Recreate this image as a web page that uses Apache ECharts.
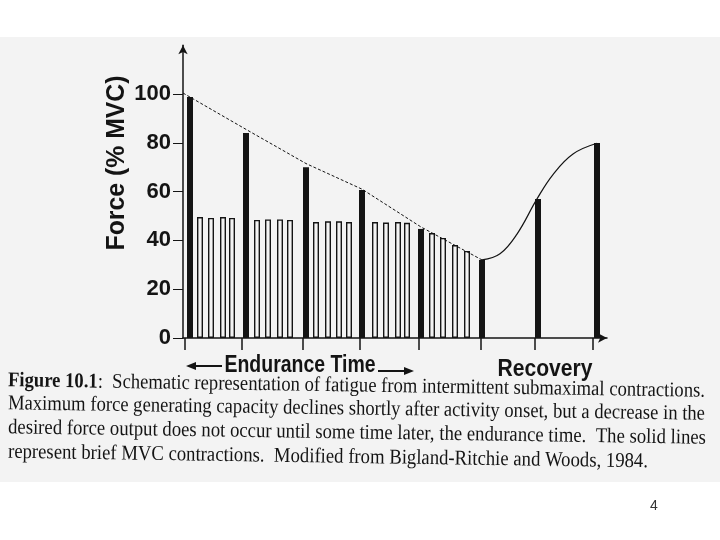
<!DOCTYPE html>
<html><head><meta charset="utf-8">
<script src="https://cdn.jsdelivr.net/npm/echarts@6/dist/echarts.min.js"></script>
<style>html,body{margin:0;padding:0;background:#fff}#c{width:720px;height:540px}</style>
</head><body><div id="c"></div>
<script>
// MVC (solid, brief maximal) contractions
const mvcX = [0.7, 6.3, 12.3, 17.9, 23.8, 29.9, 35.5, 41.4];
const mvcY = [98.8, 84, 70, 60.7, 44.7, 32, 57, 79.9];
// submaximal (open) contractions
const subX = [1.7, 2.8, 4.0, 4.9, 7.4, 8.5, 9.7, 10.7, 13.3, 14.5, 15.6, 16.6, 19.2, 20.3, 21.5, 22.4, 24.9, 26.0, 27.2, 28.4];
const subY = [49.6, 49.2, 49.6, 49.2, 48.4, 48.6, 48.6, 48.4, 47.5, 47.8, 47.8, 47.5, 47.5, 47.3, 47.5, 47.2, 43, 41, 38.1, 35.7];
// maximal force capacity: decline (dashed) and recovery (solid)
const declineX = [0, 6.3, 12.3, 17.9, 23.8, 29.9];
const declineY = [100.4, 85.5, 71.5, 61, 45.5, 32];
const recoveryX = [29.9, 31.7, 33.4, 35.4, 37.0, 39.0, 41.4];
const recoveryY = [32, 34.5, 42.6, 57, 67, 75.4, 79.8];
// axis ticks
const yTickValues = [0, 20, 40, 60, 80, 100];
const xTickValues = [0.2, 5.9, 12.0, 17.7, 23.6, 29.8, 35.2, 41.0];
// texts
const yAxisTitle = 'Force (% MVC)';
const enduranceLabel = 'Endurance Time';
const recoveryLabel = 'Recovery';
const captionBold = 'Figure 10.1';
const captionLines = [
  ':  Schematic representation of fatigue from intermittent submaximal contractions.',
  'Maximum force generating capacity declines shortly after activity onset, but a decrease in the',
  'desired force output does not occur until some time later, the endurance time.  The solid lines',
  'represent brief MVC contractions.  Modified from Bigland-Ritchie and Woods, 1984.'
];
const pageNumber = '4';

const INK = '#141414';
const PAPER = '#f3f3f3';
const mctx = document.createElement('canvas').getContext('2d');
function tw(text, font){ mctx.font = font; return mctx.measureText(text).width; }

const serif = "'Liberation Serif', 'Times New Roman', serif";
const sans = "'Liberation Sans', Arial, sans-serif";
const capFont = '21px ' + serif;
const capBoldFont = 'bold 21px ' + serif;

const capWidths = [697, 697, 698, 640];
const capCY = [386, 409, 433, 457];
const capText = [];
capText.push('{b|' + captionBold + '}' + captionLines[0]);
for (let i = 1; i < 4; i++) capText.push(captionLines[i]);

const graphics = [
  { type: 'rect', z: -10, silent: true, shape: { x: 0, y: 37, width: 720, height: 445 }, style: { fill: PAPER } }
];
for (let i = 0; i < 4; i++) {
  let w = i === 0 ? tw(captionBold, capBoldFont) + tw(captionLines[0], capFont) : tw(captionLines[i], capFont);
  const s = capWidths[i] / w;
  const cx = 8 + capWidths[i] / 2;
  graphics.push({
    type: 'text', x: cx, y: capCY[i], rotation: -0.015, scaleX: s, scaleY: 1,
    style: {
      text: capText[i], font: capFont, fill: INK,
      textAlign: 'center', textVerticalAlign: 'middle', align: 'center', verticalAlign: 'middle',
      rich: { b: { fontFamily: serif, fontSize: 21, fontWeight: 'bold', fill: INK, color: INK } }
    }
  });
}
// axis annotation texts
const lblFont = 'bold 23px ' + sans;
const titleFont = 'bold 25px ' + sans;
graphics.push({
  type: 'text', x: 117, y: 163, rotation: Math.PI / 2, scaleX: 175 / tw(yAxisTitle, titleFont),
  style: { text: yAxisTitle, font: titleFont, fill: INK, textAlign: 'center', textVerticalAlign: 'middle', align: 'center', verticalAlign: 'middle' }
});
graphics.push({
  type: 'text', x: 300, y: 366, scaleX: 151 / tw(enduranceLabel, lblFont),
  style: { text: enduranceLabel, font: lblFont, fill: INK, textAlign: 'center', textVerticalAlign: 'middle', align: 'center', verticalAlign: 'middle' }
});
graphics.push({
  type: 'text', x: 545, y: 370, scaleX: 95 / tw(recoveryLabel, lblFont),
  style: { text: recoveryLabel, font: lblFont, fill: INK, textAlign: 'center', textVerticalAlign: 'middle', align: 'center', verticalAlign: 'middle' }
});
// arrows beside "Endurance Time"
graphics.push({ type: 'line', shape: { x1: 190, y1: 366, x2: 222, y2: 366 }, style: { stroke: INK, lineWidth: 2 } });
graphics.push({ type: 'polygon', shape: { points: [[186, 366], [196, 362], [196, 370]] }, style: { fill: INK } });
graphics.push({ type: 'line', shape: { x1: 378, y1: 371, x2: 409, y2: 371 }, style: { stroke: INK, lineWidth: 2 } });
graphics.push({ type: 'polygon', shape: { points: [[414, 371], [404, 367], [404, 375]] }, style: { fill: INK } });
// page number
graphics.push({
  type: 'text', x: 654, y: 506,
  style: { text: pageNumber, font: '14px ' + sans, fill: '#333', textAlign: 'center', textVerticalAlign: 'middle', align: 'center', verticalAlign: 'middle' }
});

const chart = echarts.init(document.getElementById('c'), null, { renderer: 'canvas' });
chart.setOption({
  backgroundColor: '#ffffff',
  animation: false,
  grid: { left: 183, right: 113, top: 45.2, bottom: 202 },
  xAxis: {
    type: 'value', min: 0, max: 42.4,
    splitLine: { show: false },
    axisLine: { show: true, lineStyle: { color: INK, width: 1.5 }, symbol: ['none', 'arrow'], symbolSize: [7, 9] },
    axisTick: { show: true, customValues: xTickValues, length: 12, lineStyle: { color: INK, width: 1.5 } },
    axisLabel: { show: false }
  },
  yAxis: {
    type: 'value', min: 0, max: 120, interval: 20,
    splitLine: { show: false },
    axisLine: { show: true, lineStyle: { color: INK, width: 1.5 }, symbol: ['none', 'arrow'], symbolSize: [7, 9] },
    axisTick: { show: true, customValues: yTickValues, length: 10, lineStyle: { color: INK, width: 1 } },
    axisLabel: { show: true, customValues: yTickValues, margin: 12, color: INK, fontFamily: sans, fontSize: 22, fontWeight: 'bold' }
  },
  series: [
    {
      type: 'bar', name: 'submaximal', barWidth: 6, barGap: '-100%',
      data: subX.map((x, i) => [x, subY[i]]),
      itemStyle: { color: PAPER, borderColor: INK, borderWidth: 1.4 },
      z: 3
    },
    {
      type: 'bar', name: 'MVC', barWidth: 6, barGap: '-100%',
      data: mvcX.map((x, i) => [x, mvcY[i]]),
      itemStyle: { color: INK },
      z: 4
    },
    {
      type: 'line', name: 'decline', data: declineX.map((x, i) => [x, declineY[i]]),
      symbol: 'none', lineStyle: { color: INK, width: 1, type: [3, 2] }, z: 5
    },
    {
      type: 'line', name: 'recovery', data: recoveryX.map((x, i) => [x, recoveryY[i]]),
      symbol: 'none', smooth: 0.4, lineStyle: { color: INK, width: 1.2 }, z: 5
    }
  ],
  graphic: graphics
});
</script></body></html>
